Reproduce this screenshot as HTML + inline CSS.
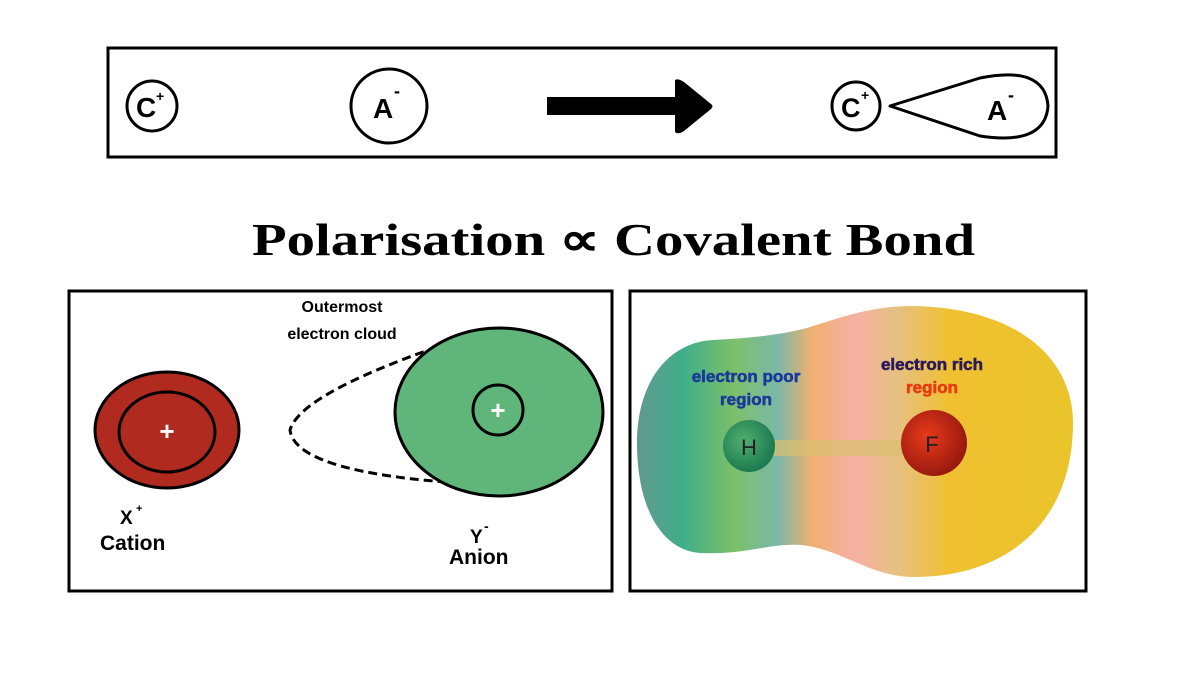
<!DOCTYPE html>
<html><head><meta charset="utf-8"><style>
html,body{margin:0;padding:0;background:#fff;width:1200px;height:675px;overflow:hidden}
svg{display:block}
.s{font-family:"Liberation Sans",sans-serif;font-weight:bold}
</style></head><body>
<svg width="1200" height="675" viewBox="0 0 1200 675" xmlns="http://www.w3.org/2000/svg">
<defs>
<linearGradient id="g" x1="640" y1="0" x2="1070" y2="0" gradientUnits="userSpaceOnUse">
<stop offset="0" stop-color="#5f9a8e"/>
<stop offset="0.1" stop-color="#3fae8a"/>
<stop offset="0.22" stop-color="#7cc06a"/>
<stop offset="0.32" stop-color="#7bb8a8"/>
<stop offset="0.4" stop-color="#f0b070"/>
<stop offset="0.5" stop-color="#f6b0a4"/>
<stop offset="0.6" stop-color="#e6c080"/>
<stop offset="0.72" stop-color="#f0c030"/>
<stop offset="1" stop-color="#e9c42a"/>
</linearGradient>
<radialGradient id="rh" cx="0.4" cy="0.4" r="0.6"><stop offset="0" stop-color="#4fb070"/><stop offset="1" stop-color="#1e7a50"/></radialGradient>
<radialGradient id="rf" cx="0.4" cy="0.4" r="0.6"><stop offset="0" stop-color="#e83a1a"/><stop offset="1" stop-color="#9a1a10"/></radialGradient>
</defs>
<rect x="108" y="48" width="948" height="109" fill="#fff" stroke="#000" stroke-width="3"/>
<circle cx="152" cy="106" r="25" fill="#fff" stroke="#000" stroke-width="3"/>
<text x="136" y="117" class="s" font-size="28">C</text><text x="156" y="101" class="s" font-size="14">+</text>
<ellipse cx="389" cy="106" rx="38" ry="37" fill="#fff" stroke="#000" stroke-width="3"/>
<text x="373" y="118" class="s" font-size="28">A</text><text x="394" y="97" class="s" font-size="18">-</text>
<rect x="547" y="97" width="132" height="18" fill="#000"/>
<path d="M675 80 Q678 78 684 82 L711 104 Q714 106 711 109 L684 131 Q678 135 675 132 Z" fill="#000"/>
<circle cx="856" cy="106" r="24" fill="#fff" stroke="#000" stroke-width="3"/>
<text x="841" y="117" class="s" font-size="27">C</text><text x="861" y="100" class="s" font-size="14">+</text>
<path d="M890 106 L980 78 Q1045 65 1048 106 Q1045 146 980 136 Z" fill="#fff" stroke="#000" stroke-width="3" stroke-linejoin="round"/>
<text x="987" y="120" class="s" font-size="28">A</text><text x="1008" y="101" class="s" font-size="18">-</text>
<text x="252" y="255" font-family="'Liberation Serif',serif" font-weight="bold" font-size="46" textLength="723" lengthAdjust="spacingAndGlyphs">Polarisation ∝ Covalent Bond</text>
<rect x="69" y="291" width="543" height="300" fill="#fff" stroke="#000" stroke-width="3"/>
<ellipse cx="167" cy="430" rx="72" ry="58" fill="#b12a1f" stroke="#000" stroke-width="3"/>
<ellipse cx="167" cy="432" rx="48" ry="40" fill="#b12a1f" stroke="#000" stroke-width="3"/>
<text x="167" y="440" text-anchor="middle" class="s" font-size="26" fill="#fff">+</text>
<path d="M437 347 Q300 395 290 430 Q295 470 445 482" fill="none" stroke="#000" stroke-width="3" stroke-dasharray="9,5"/>
<ellipse cx="499" cy="412" rx="104" ry="84" fill="#5fb57a" stroke="#000" stroke-width="3"/>
<circle cx="498" cy="410" r="25" fill="#5fb57a" stroke="#000" stroke-width="3"/>
<text x="498" y="419" text-anchor="middle" class="s" font-size="26" fill="#fff">+</text>
<text x="342" y="312" text-anchor="middle" class="s" font-size="16">Outermost</text>
<text x="342" y="339" text-anchor="middle" class="s" font-size="16">electron cloud</text>
<text x="120" y="524" class="s" font-size="19">X</text><text x="136" y="512" class="s" font-size="11">+</text>
<text x="100" y="550" class="s" font-size="21">Cation</text>
<text x="470" y="543" class="s" font-size="19">Y</text><text x="484" y="531" class="s" font-size="14">-</text>
<text x="449" y="564" class="s" font-size="21">Anion</text>
<rect x="630" y="291" width="456" height="300" fill="#fff" stroke="#000" stroke-width="3"/>
<path d="M637 443 C637 380 670 342 713 340 C750 338 780 335 807 328 C840 318 870 306 913 306 C1020 308 1073 360 1073 423 C1073 520 1010 577 913 577 C870 577 840 548 800 545 C770 543 745 555 700 553 C660 550 637 505 637 443 Z" fill="url(#g)"/>
<rect x="770" y="440" width="145" height="16" fill="#d8c070" opacity="0.7"/>
<circle cx="749" cy="446" r="26" fill="url(#rh)"/>
<text x="749" y="455" text-anchor="middle" font-family="'Liberation Sans',sans-serif" font-size="22" fill="#222">H</text>
<circle cx="934" cy="443" r="33" fill="url(#rf)"/>
<text x="932" y="452" text-anchor="middle" font-family="'Liberation Sans',sans-serif" font-size="22" fill="#222">F</text>
<g stroke-width="0.6">
<text x="746" y="382" text-anchor="middle" class="s" font-size="17" fill="#1a3a9a" stroke="#1a3a9a">electron poor</text>
<text x="746" y="405" text-anchor="middle" class="s" font-size="17" fill="#1a3a9a" stroke="#1a3a9a">region</text>
<text x="932" y="370" text-anchor="middle" class="s" font-size="17" fill="#2a1a5a" stroke="#2a1a5a">electron rich</text>
<text x="932" y="393" text-anchor="middle" class="s" font-size="17" fill="#e83a10" stroke="#e83a10">region</text>
</g>
</svg>
</body></html>
